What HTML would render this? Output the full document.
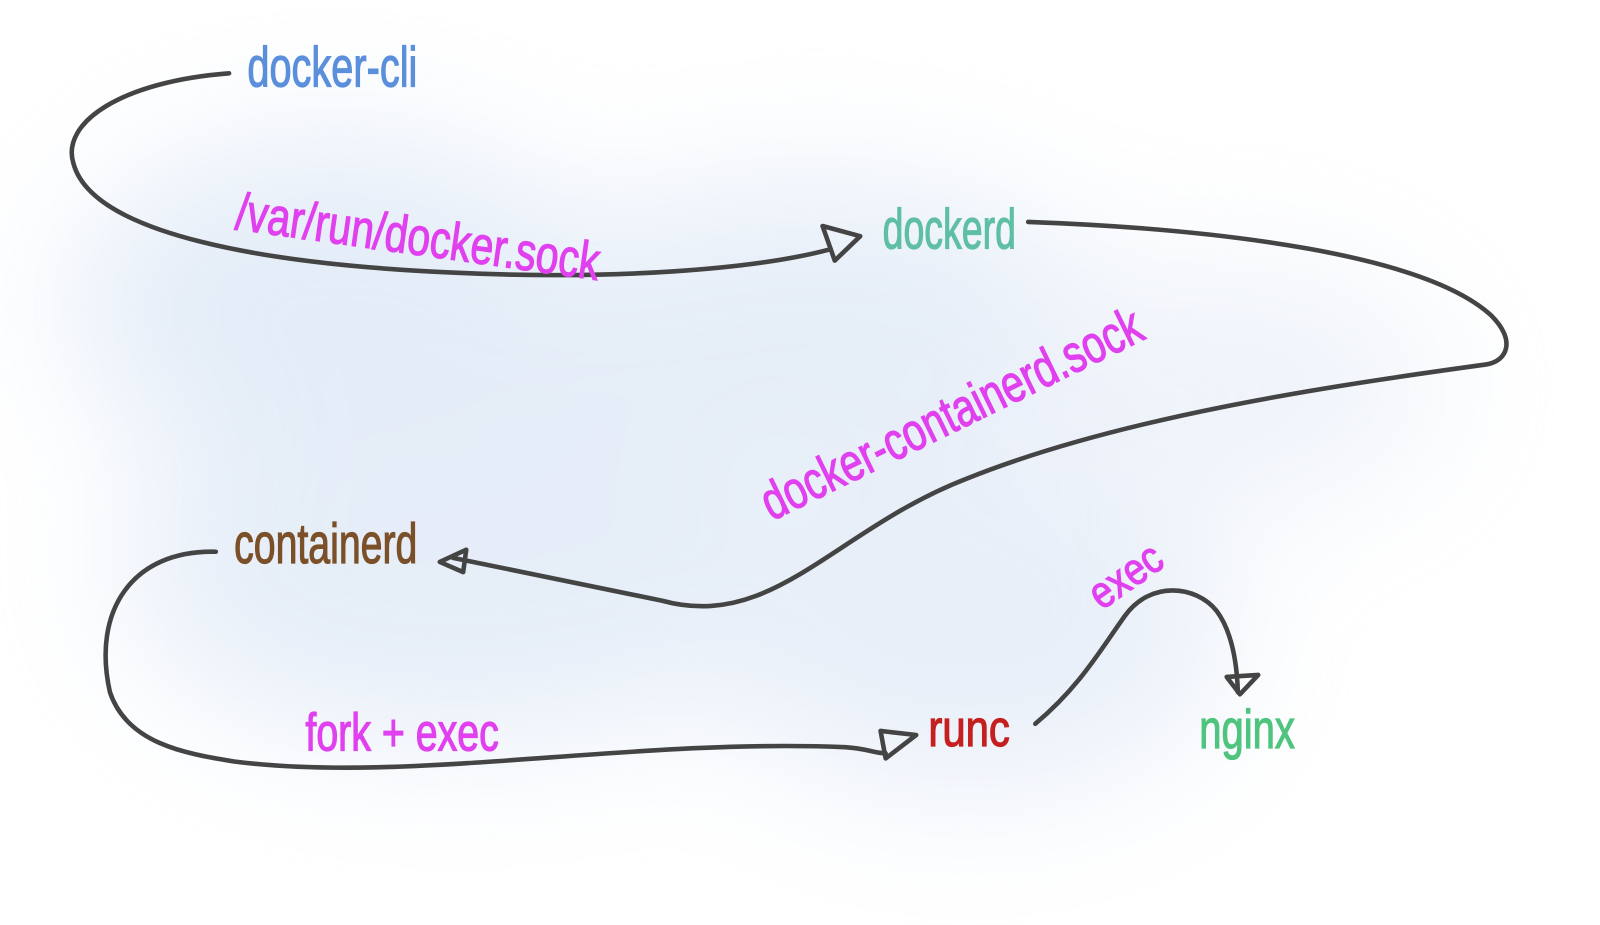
<!DOCTYPE html>
<html><head><meta charset="utf-8"><style>
html,body{margin:0;padding:0;width:1600px;height:925px;overflow:hidden;background:#fff}
svg{display:block}
text{font-family:"Liberation Sans Narrow","Liberation Sans",sans-serif;stroke-width:1.2}
</style></head><body>
<svg width="1600" height="925" viewBox="0 0 1600 925" xmlns="http://www.w3.org/2000/svg">
<defs>
<filter id="b" x="-50%" y="-50%" width="200%" height="200%"><feGaussianBlur stdDeviation="70"/></filter>
</defs>
<g transform="scale(1.018)">
<g filter="url(#b)" opacity="0.45">
<ellipse cx="330" cy="300" rx="260" ry="160" fill="#c2d5ef"/>
<ellipse cx="800" cy="330" rx="300" ry="150" fill="#c8d9f0"/>
<ellipse cx="450" cy="560" rx="330" ry="170" fill="#c8d9f0"/>
<ellipse cx="950" cy="620" rx="260" ry="160" fill="#cddcf1"/>
<ellipse cx="1200" cy="380" rx="220" ry="120" fill="#dbe5f4"/>
</g>
<g fill="none" stroke="#444" stroke-width="4.5" stroke-linecap="round" stroke-linejoin="round">
<path d="M225 72 C120 80 60 120 72 160 C90 230 260 260 450 268 C600 275 740 265 815 245"/>
<path d="M808 222 L845 232 L820 256 Z"/>
<path d="M1010 218 C1200 225 1400 250 1465 310 C1490 335 1480 355 1460 358 C1300 380 1100 410 950 470 C820 520 760 620 650 590 L445 548"/>
<path d="M458 540 L432 552 L455 562 Z"/>
<path d="M212 542 C130 540 90 600 108 680 C125 730 180 740 230 748 C400 770 620 725 830 734 C850 735 860 740 870 740"/>
<path d="M865 718 L900 722 L870 745 Z"/>
<path d="M1017 711 C1060 675 1080 640 1105 605 C1130 570 1175 575 1195 600 C1210 620 1215 650 1216 680"/>
<path d="M1205 665 L1236 663 L1218 682 Z"/>
</g>
<text x="243" y="85" font-size="56" fill="#5b8fdb" stroke="#5b8fdb" textLength="167" lengthAdjust="spacingAndGlyphs">docker-cli</text>
<text x="867" y="244" font-size="56" fill="#5fbfa5" stroke="#5fbfa5" textLength="131" lengthAdjust="spacingAndGlyphs">dockerd</text>
<text x="230" y="553" font-size="56" fill="#7b5028" stroke="#7b5028" textLength="180" lengthAdjust="spacingAndGlyphs">containerd</text>
<text x="912" y="733" font-size="50" fill="#c42020" stroke="#c42020" textLength="80" lengthAdjust="spacingAndGlyphs">runc</text>
<text x="1178" y="735" font-size="54" fill="#4fc47f" stroke="#4fc47f" textLength="94" lengthAdjust="spacingAndGlyphs">nginx</text>
<text x="0" y="0" font-size="52" fill="#e040ee" stroke="#e040ee" transform="translate(230 225) rotate(8)" textLength="360" lengthAdjust="spacingAndGlyphs">/var/run/docker.sock</text>
<text x="0" y="0" font-size="52" fill="#e040ee" stroke="#e040ee" transform="translate(758 512) rotate(-26)" textLength="410" lengthAdjust="spacingAndGlyphs">docker-containerd.sock</text>
<text x="300" y="737" font-size="52" fill="#e040ee" stroke="#e040ee" textLength="190" lengthAdjust="spacingAndGlyphs">fork + exec</text>
<text x="0" y="0" font-size="44" fill="#e040ee" stroke="#e040ee" transform="translate(1082 600) rotate(-35)" textLength="78" lengthAdjust="spacingAndGlyphs">exec</text>
</g>
</svg>
</body></html>
